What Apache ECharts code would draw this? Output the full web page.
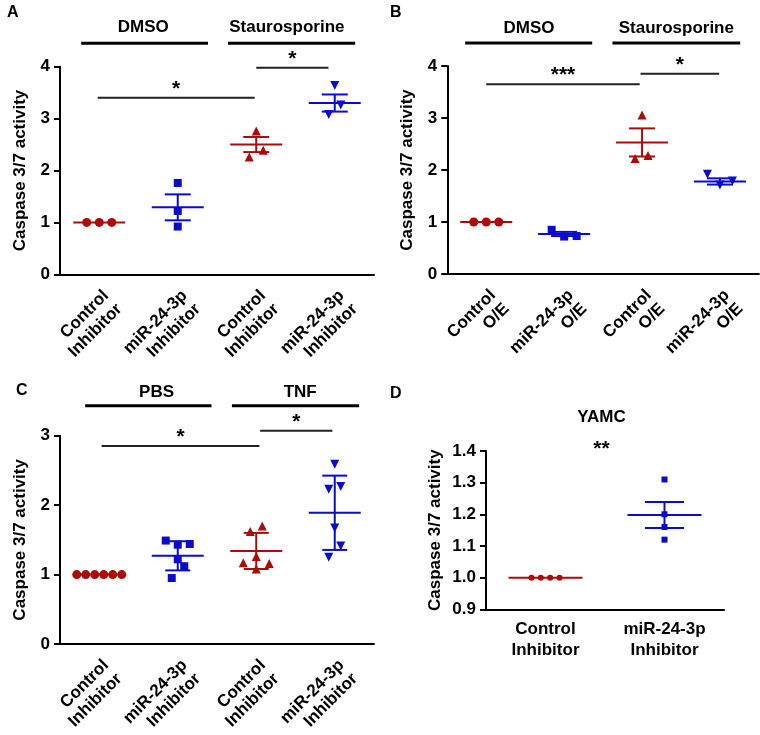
<!DOCTYPE html>
<html><head><meta charset="utf-8">
<script src="https://cdn.jsdelivr.net/npm/echarts@6/dist/echarts.min.js"></script>
<style>html,body{margin:0;padding:0;background:#fff}#c{width:760px;height:735px}</style>
</head><body><div id="c"></div>
<script>
// ---------- DATA ----------
const catsInhib = ['Control\nInhibitor', 'miR-24-3p\nInhibitor', 'Control\nInhibitor', 'miR-24-3p\nInhibitor'];
const catsOE = ['Control\nO/E', 'miR-24-3p\nO/E', 'Control\nO/E', 'miR-24-3p\nO/E'];
const catsD = ['Control\nInhibitor', 'miR-24-3p\nInhibitor'];
const yTicksAB = [0, 1, 2, 3, 4];
const yTicksC = [0, 1, 2, 3];
const yTicksD = [0.9, 1.0, 1.1, 1.2, 1.3, 1.4];

// Panel A (DMSO / Staurosporine, inhibitor)
const A_ctrlDMSO = [1.0, 1.0, 1.0];
const A_mirDMSO = [1.76, 1.22, 0.92];
const A_ctrlStau = [2.76, 2.39, 2.26];
const A_mirStau = [3.64, 3.26, 3.08];
const A_mean = [1.0, 1.29, 2.50, 3.30];
const A_err = [0, 0.25, 0.145, 0.165];

// Panel B (DMSO / Staurosporine, O/E)
const B_ctrlDMSO = [1.0, 1.0, 1.0];
const B_mirDMSO = [0.85, 0.72, 0.73];
const B_ctrlStau = [3.06, 2.22, 2.28];
const B_mirStau = [1.92, 1.71, 1.79];
const B_mean = [1.0, 0.77, 2.53, 1.78];
const B_err = [0, 0.04, 0.27, 0.06];

// Panel C (PBS / TNF)
const C_ctrlPBS = [1.0, 1.0, 1.0, 1.0, 1.0, 1.0];
const C_mirPBS = [1.49, 1.43, 1.44, 1.22, 1.12, 0.95];
const C_ctrlTNF = [1.62, 1.70, 1.26, 1.17, 1.16, 1.08];
const C_mirTNF = [2.59, 2.23, 2.27, 1.67, 1.41, 1.25];
const C_mean = [1.0, 1.27, 1.34, 1.89];
const C_err = [0, 0.21, 0.26, 0.535];

// Panel D (YAMC)
const D_ctrl = [1.0, 1.0, 1.0, 1.0];
const D_mir = [1.31, 1.20, 1.16, 1.12];
const D_mean = [1.0, 1.198];
const D_err = [0, 0.041];

// Annotations (text)
const groupsAB = ['DMSO', 'Staurosporine'];
const groupsC = ['PBS', 'TNF'];
const sigA = ['*', '*'];
const sigB = ['***', '*'];
const sigC = ['*', '*'];
const sigD = '**';
const titleD = 'YAMC';
const yName = 'Caspase 3/7 activity';

// ---------- STYLE / LAYOUT ----------
const RED = '#ad0b0b', BLUE = '#0b0bcc';
const FONT = '"Liberation Sans", Arial, Helvetica, sans-serif';
const colorsABC = [RED, BLUE, RED, BLUE];
const colorsD = [RED, BLUE];

const jit = {
  A: [[-12.5, 0, 12.5], [0, 0, 0], [0, 7, -7], [0, 6, -6]],
  B: [[-12.5, 0, 12.5], [-12.5, 0, 12.5], [0, -7, 6], [-12.5, 0, 12.5]],
  C: [[-22.5, -13.5, -4.5, 4.5, 13.5, 22.5], [-12, 0, 12, 0, 6.5, -6], [-6, 6, 0, -13, 13, 0], [0, -6, 6, 0, 6, -6]],
  D: [[-14, -4.7, 4.7, 14], [0, 0, 0, 0]]
};

const grids = [
  {left: 60, top: 66.7, width: 314, height: 207.6, outerBoundsMode: 'none', containLabel: false},
  {left: 447.3, top: 66, width: 311.6, height: 208, outerBoundsMode: 'none', containLabel: false},
  {left: 60, top: 435.7, width: 314, height: 208.3, outerBoundsMode: 'none', containLabel: false},
  {left: 486, top: 451, width: 238, height: 158.3, outerBoundsMode: 'none', containLabel: false}
];

const axisLineStyle = {color: '#000', width: 2};
function catAxis(gi, cats, rotate) {
  return {
    type: 'category', gridIndex: gi, data: cats, boundaryGap: true,
    axisLine: {onZero: false, lineStyle: axisLineStyle},
    axisTick: {alignWithLabel: true, length: 6, lineStyle: {color: '#000', width: 2}},
    axisLabel: rotate ? {
      interval: 0, rotate: 45, margin: 12, color: '#000', fontFamily: FONT,
      fontWeight: 'bold', fontSize: 17, lineHeight: 19, verticalAlign: 'top'
    } : {
      interval: 0, margin: 10, color: '#000', fontFamily: FONT,
      fontWeight: 'bold', fontSize: 17, lineHeight: 21
    },
    splitLine: {show: false}
  };
}
function valXAxis(gi, n) {
  return {type: 'value', gridIndex: gi, min: -0.5, max: n - 0.5, show: false};
}
function valYAxis(gi, ticks, interval, gap, dec) {
  return {
    type: 'value', gridIndex: gi, min: ticks[0], max: ticks[ticks.length - 1], interval: interval,
    name: yName, nameLocation: 'middle', nameGap: gap,
    nameTextStyle: {color: '#000', fontFamily: FONT, fontWeight: 'bold', fontSize: 17},
    axisLine: {show: true, onZero: false, lineStyle: axisLineStyle},
    axisTick: {show: true, length: 6, lineStyle: {color: '#000', width: 2}},
    axisLabel: {
      margin: 10, color: '#000', fontFamily: FONT, fontWeight: 'bold', fontSize: 17,
      formatter: v => dec ? v.toFixed(1) : String(Math.round(v))
    },
    splitLine: {show: false}
  };
}

function errRender(colors, halfMean, halfCap) {
  return function (params, api) {
    const x = api.value(0), m = api.value(1), e = api.value(2);
    const c = colors[params.dataIndex];
    const pm = api.coord([x, m]);
    const st = {stroke: c, lineWidth: 2};
    const ch = [{type: 'line', shape: {x1: pm[0] - halfMean, y1: pm[1], x2: pm[0] + halfMean, y2: pm[1]}, style: st}];
    if (e > 0) {
      const ph = api.coord([x, m + e]), pl = api.coord([x, m - e]);
      ch.push({type: 'line', shape: {x1: pm[0], y1: ph[1], x2: pm[0], y2: pl[1]}, style: st});
      ch.push({type: 'line', shape: {x1: pm[0] - halfCap, y1: ph[1], x2: pm[0] + halfCap, y2: ph[1]}, style: st});
      ch.push({type: 'line', shape: {x1: pm[0] - halfCap, y1: pl[1], x2: pm[0] + halfCap, y2: pl[1]}, style: st});
    }
    return {type: 'group', children: ch};
  };
}
function errSeries(gi, means, errs, colors, halfMean, halfCap) {
  return {
    type: 'custom', xAxisIndex: 2 * gi + 1, yAxisIndex: gi, z: 2, silent: true,
    data: means.map((m, i) => [i, m, errs[i]]),
    renderItem: errRender(colors, halfMean, halfCap)
  };
}
// brackets: [x1, x2, y, label]
function bracketSeries(gi, items) {
  return {
    type: 'custom', xAxisIndex: 2 * gi + 1, yAxisIndex: gi, z: 3, silent: true, clip: false,
    data: items,
    renderItem: function (params, api) {
      const p1 = api.coord([api.value(0), api.value(2)]);
      const p2 = api.coord([api.value(1), api.value(2)]);
      const lbl = items[params.dataIndex][3];
      return {type: 'group', children: [
        {type: 'line', shape: {x1: p1[0], y1: p1[1], x2: p2[0], y2: p1[1]}, style: {stroke: '#222', lineWidth: 2}},
        {type: 'text', x: (p1[0] + p2[0]) / 2, y: p1[1] + 2,
          style: {text: lbl, fill: '#000', font: 'bold 21px ' + FONT, textAlign: 'center', textVerticalAlign: 'bottom'}}
      ]};
    }
  };
}
// headers: [x1, x2, yLine, textX, yText, label]
function headerSeries(gi, items) {
  return {
    type: 'custom', xAxisIndex: 2 * gi + 1, yAxisIndex: gi, z: 3, silent: true, clip: false,
    data: items,
    renderItem: function (params, api) {
      const p1 = api.coord([api.value(0), api.value(2)]);
      const p2 = api.coord([api.value(1), api.value(2)]);
      const pt = api.coord([api.value(3), api.value(4)]);
      const lbl = items[params.dataIndex][5];
      return {type: 'group', children: [
        {type: 'line', shape: {x1: p1[0], y1: p1[1], x2: p2[0], y2: p1[1]}, style: {stroke: '#000', lineWidth: 3}},
        {type: 'text', x: pt[0], y: pt[1],
          style: {text: lbl, fill: '#000', font: 'bold 17px ' + FONT, textAlign: 'center', textVerticalAlign: 'middle'}}
      ]};
    }
  };
}
function scatterSeries(gi, idx, vals, offs, color, symbol, size, rot) {
  return {
    type: 'scatter', xAxisIndex: 2 * gi + 1, yAxisIndex: gi, z: 4, silent: true,
    symbol: symbol, symbolSize: size, symbolRotate: rot || 0,
    itemStyle: {color: color, opacity: 1},
    data: vals.map((v, k) => ({value: [idx, v], symbolOffset: [offs[k], 0]}))
  };
}

const series = [
  errSeries(0, A_mean, A_err, colorsABC, 26, 13),
  errSeries(1, B_mean, B_err, colorsABC, 26, 13),
  errSeries(2, C_mean, C_err, colorsABC, 26, 12.5),
  errSeries(3, D_mean, D_err, colorsD, 37, 19.5),

  scatterSeries(0, 0, A_ctrlDMSO, jit.A[0], RED, 'circle', 9),
  scatterSeries(0, 1, A_mirDMSO, jit.A[1], BLUE, 'rect', 8),
  scatterSeries(0, 2, A_ctrlStau, jit.A[2], RED, 'triangle', 9),
  scatterSeries(0, 3, A_mirStau, jit.A[3], BLUE, 'triangle', 9, 180),

  scatterSeries(1, 0, B_ctrlDMSO, jit.B[0], RED, 'circle', 9),
  scatterSeries(1, 1, B_mirDMSO, jit.B[1], BLUE, 'rect', 8),
  scatterSeries(1, 2, B_ctrlStau, jit.B[2], RED, 'triangle', 9),
  scatterSeries(1, 3, B_mirStau, jit.B[3], BLUE, 'triangle', 9, 180),

  scatterSeries(2, 0, C_ctrlPBS, jit.C[0], RED, 'circle', 9),
  scatterSeries(2, 1, C_mirPBS, jit.C[1], BLUE, 'rect', 8),
  scatterSeries(2, 2, C_ctrlTNF, jit.C[2], RED, 'triangle', 9),
  scatterSeries(2, 3, C_mirTNF, jit.C[3], BLUE, 'triangle', 9, 180),

  scatterSeries(3, 0, D_ctrl, jit.D[0], RED, 'circle', 6),
  scatterSeries(3, 1, D_mir, jit.D[1], BLUE, 'rect', 6),

  bracketSeries(0, [[-0.02, 1.98, 3.40, sigA[0]], [2.0, 2.92, 3.98, sigA[1]]]),
  bracketSeries(1, [[0.0, 1.97, 3.65, sigB[0]], [1.98, 2.99, 3.85, sigB[1]]]),
  bracketSeries(2, [[0.03, 2.04, 2.85, sigC[0]], [2.05, 2.97, 3.07, sigC[1]]]),

  headerSeries(0, [[-0.23, 1.385, 4.45, 0.56, 4.76, groupsAB[0]], [1.64, 3.26, 4.45, 2.39, 4.76, groupsAB[1]]]),
  headerSeries(1, [[-0.27, 1.36, 4.44, 0.55, 4.73, groupsAB[0]], [1.62, 3.26, 4.44, 2.44, 4.73, groupsAB[1]]]),
  headerSeries(2, [[-0.18, 1.43, 3.43, 0.73, 3.62, groupsC[0]], [1.69, 3.31, 3.43, 2.56, 3.62, groupsC[1]]]),
  {
    type: 'custom', xAxisIndex: 7, yAxisIndex: 3, z: 3, silent: true, clip: false,
    data: [[0.47, 1.432, titleD], [0.47, 1.418, sigD]],
    renderItem: function (params, api) {
      const p = api.coord([api.value(0), api.value(1)]);
      const i = params.dataIndex;
      if (i === 0) {
        return {type: 'text', x: p[0], y: p[1] - 24, style: {text: titleD, fill: '#000', font: 'bold 17px ' + FONT, textAlign: 'center', textVerticalAlign: 'middle'}};
      }
      return {type: 'text', x: p[0], y: p[1] + 14, style: {text: sigD, fill: '#000', font: 'bold 21px ' + FONT, textAlign: 'center', textVerticalAlign: 'bottom'}};
    }
  }
];

const option = {
  animation: false,
  backgroundColor: '#fff',
  textStyle: {fontFamily: FONT},
  title: [
    {text: 'A', left: 2, top: 0, textStyle: {fontFamily: FONT, fontWeight: 'bold', fontSize: 16, color: '#000'}},
    {text: 'B', left: 385, top: 0, textStyle: {fontFamily: FONT, fontWeight: 'bold', fontSize: 16, color: '#000'}},
    {text: 'C', left: 11, top: 378, textStyle: {fontFamily: FONT, fontWeight: 'bold', fontSize: 16, color: '#000'}},
    {text: 'D', left: 385, top: 381, textStyle: {fontFamily: FONT, fontWeight: 'bold', fontSize: 16, color: '#000'}}
  ],
  grid: grids,
  xAxis: [
    catAxis(0, catsInhib, true), valXAxis(0, 4),
    catAxis(1, catsOE, true), valXAxis(1, 4),
    catAxis(2, catsInhib, true), valXAxis(2, 4),
    catAxis(3, catsD, false), valXAxis(3, 2)
  ],
  yAxis: [
    valYAxis(0, yTicksAB, 1, 31, false),
    valYAxis(1, yTicksAB, 1, 31, false),
    valYAxis(2, yTicksC, 1, 31, false),
    valYAxis(3, yTicksD, 0.1, 42, true)
  ],
  series: series
};
const chart = echarts.init(document.getElementById('c'), null, {renderer: 'canvas'});
chart.setOption(option);
</script>
</body></html>
